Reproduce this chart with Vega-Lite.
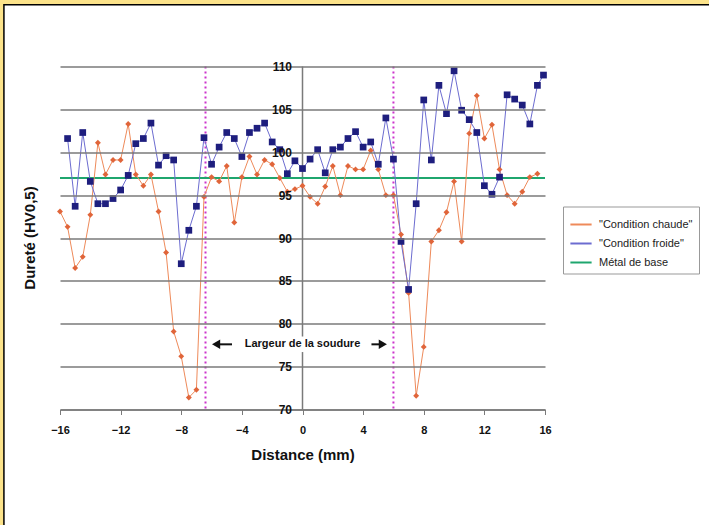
{
  "$schema": "https://vega.github.io/schema/vega-lite/v6.json",
  "width": 485,
  "height": 343,
  "autosize": {"type": "none"},
  "padding": {"left": 60, "top": 66.5, "right": 164, "bottom": 115.5},
  "background": "#FCE38A",
  "config": {
    "view": {"stroke": "#b8b8b8", "strokeWidth": 1},
    "font": "Liberation Sans"
  },
  "datasets": {
    "h": [
      {"s": "\"Condition chaude\"", "d": -16, "v": 93.1},
      {"s": "\"Condition chaude\"", "d": -15.5, "v": 91.3},
      {"s": "\"Condition chaude\"", "d": -15, "v": 86.5},
      {"s": "\"Condition chaude\"", "d": -14.5, "v": 87.8},
      {"s": "\"Condition chaude\"", "d": -14, "v": 92.7},
      {"s": "\"Condition chaude\"", "d": -13.5, "v": 101.1},
      {"s": "\"Condition chaude\"", "d": -13, "v": 97.4},
      {"s": "\"Condition chaude\"", "d": -12.5, "v": 99.1},
      {"s": "\"Condition chaude\"", "d": -12, "v": 99.1},
      {"s": "\"Condition chaude\"", "d": -11.5, "v": 103.3},
      {"s": "\"Condition chaude\"", "d": -11, "v": 97.4},
      {"s": "\"Condition chaude\"", "d": -10.5, "v": 96.1},
      {"s": "\"Condition chaude\"", "d": -10, "v": 97.4},
      {"s": "\"Condition chaude\"", "d": -9.5, "v": 93.1},
      {"s": "\"Condition chaude\"", "d": -9, "v": 88.3},
      {"s": "\"Condition chaude\"", "d": -8.5, "v": 79.1},
      {"s": "\"Condition chaude\"", "d": -8, "v": 76.2},
      {"s": "\"Condition chaude\"", "d": -7.5, "v": 71.4},
      {"s": "\"Condition chaude\"", "d": -7, "v": 72.3},
      {"s": "\"Condition chaude\"", "d": -6.5, "v": 94.8},
      {"s": "\"Condition chaude\"", "d": -6, "v": 97.1},
      {"s": "\"Condition chaude\"", "d": -5.5, "v": 96.6},
      {"s": "\"Condition chaude\"", "d": -5, "v": 98.4},
      {"s": "\"Condition chaude\"", "d": -4.5, "v": 91.8},
      {"s": "\"Condition chaude\"", "d": -4, "v": 97.1},
      {"s": "\"Condition chaude\"", "d": -3.5, "v": 99.5},
      {"s": "\"Condition chaude\"", "d": -3, "v": 97.4},
      {"s": "\"Condition chaude\"", "d": -2.5, "v": 99.1},
      {"s": "\"Condition chaude\"", "d": -2, "v": 98.6},
      {"s": "\"Condition chaude\"", "d": -1.5, "v": 97.0},
      {"s": "\"Condition chaude\"", "d": -1, "v": 95.4},
      {"s": "\"Condition chaude\"", "d": -0.5, "v": 95.7},
      {"s": "\"Condition chaude\"", "d": 0, "v": 96.1},
      {"s": "\"Condition chaude\"", "d": 0.5, "v": 94.8},
      {"s": "\"Condition chaude\"", "d": 1, "v": 94.0},
      {"s": "\"Condition chaude\"", "d": 1.5, "v": 96.0},
      {"s": "\"Condition chaude\"", "d": 2, "v": 98.4},
      {"s": "\"Condition chaude\"", "d": 2.5, "v": 95.0},
      {"s": "\"Condition chaude\"", "d": 3, "v": 98.4},
      {"s": "\"Condition chaude\"", "d": 3.5, "v": 98.0},
      {"s": "\"Condition chaude\"", "d": 4, "v": 98.0},
      {"s": "\"Condition chaude\"", "d": 4.5, "v": 100.2},
      {"s": "\"Condition chaude\"", "d": 5, "v": 98.0},
      {"s": "\"Condition chaude\"", "d": 5.5, "v": 95.0},
      {"s": "\"Condition chaude\"", "d": 6, "v": 95.0},
      {"s": "\"Condition chaude\"", "d": 6.5, "v": 90.4},
      {"s": "\"Condition chaude\"", "d": 7, "v": 83.6},
      {"s": "\"Condition chaude\"", "d": 7.5, "v": 71.6},
      {"s": "\"Condition chaude\"", "d": 8, "v": 77.3},
      {"s": "\"Condition chaude\"", "d": 8.5, "v": 89.6},
      {"s": "\"Condition chaude\"", "d": 9, "v": 90.9},
      {"s": "\"Condition chaude\"", "d": 9.5, "v": 93.0},
      {"s": "\"Condition chaude\"", "d": 10, "v": 96.6},
      {"s": "\"Condition chaude\"", "d": 10.5, "v": 89.6},
      {"s": "\"Condition chaude\"", "d": 11, "v": 102.2},
      {"s": "\"Condition chaude\"", "d": 11.5, "v": 106.6},
      {"s": "\"Condition chaude\"", "d": 12, "v": 101.6},
      {"s": "\"Condition chaude\"", "d": 12.5, "v": 103.2},
      {"s": "\"Condition chaude\"", "d": 13, "v": 98.0},
      {"s": "\"Condition chaude\"", "d": 13.5, "v": 95.0},
      {"s": "\"Condition chaude\"", "d": 14, "v": 94.0},
      {"s": "\"Condition chaude\"", "d": 14.5, "v": 95.4},
      {"s": "\"Condition chaude\"", "d": 15, "v": 97.1},
      {"s": "\"Condition chaude\"", "d": 15.5, "v": 97.5},
      {"s": "\"Condition froide\"", "d": -15.5, "v": 101.6},
      {"s": "\"Condition froide\"", "d": -15, "v": 93.7},
      {"s": "\"Condition froide\"", "d": -14.5, "v": 102.3},
      {"s": "\"Condition froide\"", "d": -14, "v": 96.6},
      {"s": "\"Condition froide\"", "d": -13.5, "v": 94.0},
      {"s": "\"Condition froide\"", "d": -13, "v": 94.0},
      {"s": "\"Condition froide\"", "d": -12.5, "v": 94.6},
      {"s": "\"Condition froide\"", "d": -12, "v": 95.6},
      {"s": "\"Condition froide\"", "d": -11.5, "v": 97.3},
      {"s": "\"Condition froide\"", "d": -11, "v": 101.0},
      {"s": "\"Condition froide\"", "d": -10.5, "v": 101.6},
      {"s": "\"Condition froide\"", "d": -10, "v": 103.4},
      {"s": "\"Condition froide\"", "d": -9.5, "v": 98.5},
      {"s": "\"Condition froide\"", "d": -9, "v": 99.6},
      {"s": "\"Condition froide\"", "d": -8.5, "v": 99.1},
      {"s": "\"Condition froide\"", "d": -8, "v": 87.0},
      {"s": "\"Condition froide\"", "d": -7.5, "v": 90.9},
      {"s": "\"Condition froide\"", "d": -7, "v": 93.7},
      {"s": "\"Condition froide\"", "d": -6.5, "v": 101.7},
      {"s": "\"Condition froide\"", "d": -6, "v": 98.6},
      {"s": "\"Condition froide\"", "d": -5.5, "v": 100.6},
      {"s": "\"Condition froide\"", "d": -5, "v": 102.3},
      {"s": "\"Condition froide\"", "d": -4.5, "v": 101.6},
      {"s": "\"Condition froide\"", "d": -4, "v": 99.5},
      {"s": "\"Condition froide\"", "d": -3.5, "v": 102.3},
      {"s": "\"Condition froide\"", "d": -3, "v": 102.8},
      {"s": "\"Condition froide\"", "d": -2.5, "v": 103.4},
      {"s": "\"Condition froide\"", "d": -2, "v": 101.2},
      {"s": "\"Condition froide\"", "d": -1.5, "v": 100.3},
      {"s": "\"Condition froide\"", "d": -1, "v": 97.5},
      {"s": "\"Condition froide\"", "d": -0.5, "v": 99.0},
      {"s": "\"Condition froide\"", "d": 0, "v": 98.1},
      {"s": "\"Condition froide\"", "d": 0.5, "v": 99.2},
      {"s": "\"Condition froide\"", "d": 1, "v": 100.3},
      {"s": "\"Condition froide\"", "d": 1.5, "v": 97.6},
      {"s": "\"Condition froide\"", "d": 2, "v": 100.3},
      {"s": "\"Condition froide\"", "d": 2.5, "v": 100.6},
      {"s": "\"Condition froide\"", "d": 3, "v": 101.6},
      {"s": "\"Condition froide\"", "d": 3.5, "v": 102.4},
      {"s": "\"Condition froide\"", "d": 4, "v": 100.6},
      {"s": "\"Condition froide\"", "d": 4.5, "v": 101.2},
      {"s": "\"Condition froide\"", "d": 5, "v": 98.6},
      {"s": "\"Condition froide\"", "d": 5.5, "v": 104.0},
      {"s": "\"Condition froide\"", "d": 6, "v": 99.2},
      {"s": "\"Condition froide\"", "d": 6.5, "v": 89.6},
      {"s": "\"Condition froide\"", "d": 7, "v": 84.0},
      {"s": "\"Condition froide\"", "d": 7.5, "v": 94.0},
      {"s": "\"Condition froide\"", "d": 8, "v": 106.1},
      {"s": "\"Condition froide\"", "d": 8.5, "v": 99.1},
      {"s": "\"Condition froide\"", "d": 9, "v": 107.8},
      {"s": "\"Condition froide\"", "d": 9.5, "v": 104.5},
      {"s": "\"Condition froide\"", "d": 10, "v": 109.5},
      {"s": "\"Condition froide\"", "d": 10.5, "v": 104.9},
      {"s": "\"Condition froide\"", "d": 11, "v": 103.8},
      {"s": "\"Condition froide\"", "d": 11.5, "v": 102.3},
      {"s": "\"Condition froide\"", "d": 12, "v": 96.1},
      {"s": "\"Condition froide\"", "d": 12.5, "v": 95.1},
      {"s": "\"Condition froide\"", "d": 13, "v": 97.1},
      {"s": "\"Condition froide\"", "d": 13.5, "v": 106.7},
      {"s": "\"Condition froide\"", "d": 14, "v": 106.2},
      {"s": "\"Condition froide\"", "d": 14.5, "v": 105.5},
      {"s": "\"Condition froide\"", "d": 15, "v": 103.3},
      {"s": "\"Condition froide\"", "d": 15.5, "v": 107.8},
      {"s": "\"Condition froide\"", "d": 15.9, "v": 109.0}
    ],
    "base": [{"s": "Métal de base", "v": 97}],
    "weld": [{"d": -6.4}, {"d": 6}],
    "zero": [{"d": 0, "a": 70, "b": 76.7}, {"d": 0, "a": 78.5, "b": 110}],
    "note": [{"label": "Largeur de la soudure", "d": 0, "v": 77.6}]
  },
  "layer": [
    {
      "data": {"values": [{}]},
      "mark": {"type": "rect", "fill": "white", "stroke": "black", "strokeWidth": 1.5, "clip": false},
      "encoding": {
        "x": {"datum": -19.7, "type": "quantitative",
          "scale": {"domain": [-16, 16], "nice": false, "zero": false},
          "axis": {
            "orient": "bottom", "values": [-16, -12, -8, -4, 0, 4, 8, 12, 16],
            "grid": false, "zindex": 1,
            "domainColor": "#7a7a7a", "domainWidth": 1.5,
            "tickColor": "#7a7a7a", "tickSize": 5, "tickWidth": 1,
            "labelFontSize": 11, "labelFontWeight": "bold", "labelColor": "#111",
            "labelPadding": 10, "labelFlush": false,
            "title": "Distance (mm)", "titleFontSize": 15, "titleFontWeight": "bold",
            "titleColor": "#111", "titlePadding": 12
          }
        },
        "x2": {"datum": 28},
        "y": {"datum": 117.2, "type": "quantitative",
          "scale": {"domain": [70, 110], "nice": false, "zero": false},
          "axis": {
            "orient": "left", "offset": -242.5, "values": [70, 75, 80, 85, 90, 95, 100, 105, 110],
            "grid": true, "gridColor": "#7a7a7a", "gridWidth": 1.5, "zindex": 1,
            "domain": false, "ticks": false,
            "labelFontSize": 12, "labelFontWeight": "bold", "labelColor": "#111",
            "labelPadding": 11, "labelFlush": false,
            "title": "Dureté (HV0,5)", "titleFontSize": 15, "titleFontWeight": "bold",
            "titleColor": "#111", "titleX": -265, "titleY": 171
          }
        },
        "y2": {"datum": 50}
      }
    },
    {
      "data": {"name": "zero"},
      "mark": {"type": "rule", "color": "#7a7a7a", "strokeWidth": 1.5},
      "encoding": {
        "x": {"field": "d", "type": "quantitative"},
        "y": {"field": "a", "type": "quantitative"},
        "y2": {"field": "b"}
      }
    },
    {
      "data": {"name": "weld"},
      "mark": {"type": "rule", "color": "#CC33CC", "strokeWidth": 2, "strokeDash": [2, 3]},
      "encoding": {"x": {"field": "d", "type": "quantitative"}}
    },
    {
      "data": {"name": "base"},
      "mark": {"type": "rule", "strokeWidth": 2},
      "encoding": {
        "y": {"field": "v", "type": "quantitative"},
        "color": {"field": "s", "type": "nominal"}
      }
    },
    {
      "data": {"name": "h"},
      "mark": {"type": "line", "strokeWidth": 1},
      "encoding": {
        "x": {"field": "d", "type": "quantitative"},
        "y": {"field": "v", "type": "quantitative"},
        "color": {
          "field": "s", "type": "nominal",
          "scale": {
            "domain": ["\"Condition chaude\"", "\"Condition froide\"", "Métal de base"],
            "range": ["#EE8A5A", "#6C6CD0", "#1FA66E"]
          },
          "legend": {
            "title": null, "orient": "none", "legendX": 503, "legendY": 140,
            "symbolType": "stroke", "symbolStrokeWidth": 2, "symbolSize": 450,
            "labelFontSize": 11, "labelColor": "#222", "labelFont": "Liberation Sans",
            "rowPadding": 2, "padding": 6, "strokeColor": "#999", "fillColor": "white",
            "labelLimit": 200, "labelOffset": 6
          }
        }
      }
    },
    {
      "data": {"name": "h"},
      "mark": {"type": "point", "filled": true, "opacity": 1, "strokeWidth": 0},
      "encoding": {
        "x": {"field": "d", "type": "quantitative"},
        "y": {"field": "v", "type": "quantitative"},
        "fill": {
          "field": "s", "type": "nominal", "legend": null,
          "scale": {"domain": ["\"Condition chaude\"", "\"Condition froide\""], "range": ["#E0653A", "#1E1E7E"]}
        },
        "shape": {
          "field": "s", "type": "nominal", "legend": null,
          "scale": {"domain": ["\"Condition chaude\"", "\"Condition froide\""], "range": ["diamond", "square"]}
        },
        "size": {
          "field": "s", "type": "nominal", "legend": null,
          "scale": {"domain": ["\"Condition chaude\"", "\"Condition froide\""], "range": [35, 45]}
        }
      }
    },
    {
      "data": {"name": "note"},
      "mark": {"type": "text", "fontSize": 11, "fontWeight": "bold", "color": "#111", "align": "center", "baseline": "middle"},
      "encoding": {
        "x": {"field": "d", "type": "quantitative"},
        "y": {"field": "v", "type": "quantitative"},
        "text": {"field": "label"}
      }
    },
    {
      "data": {"values": [{}]},
      "mark": {"type": "rule", "color": "#111", "strokeWidth": 2},
      "encoding": {
        "x": {"datum": -5.5, "type": "quantitative"},
        "x2": {"datum": -4.65},
        "y": {"datum": 77.6, "type": "quantitative"}
      }
    },
    {
      "data": {"values": [{}]},
      "mark": {"type": "rule", "color": "#111", "strokeWidth": 2},
      "encoding": {
        "x": {"datum": 4.55, "type": "quantitative"},
        "x2": {"datum": 5.1},
        "y": {"datum": 77.6, "type": "quantitative"}
      }
    },
    {
      "data": {"values": [{}]},
      "mark": {"type": "point", "shape": "triangle-left", "filled": true, "color": "#111", "size": 90, "opacity": 1},
      "encoding": {
        "x": {"datum": -5.7, "type": "quantitative"},
        "y": {"datum": 77.6, "type": "quantitative"}
      }
    },
    {
      "data": {"values": [{}]},
      "mark": {"type": "point", "shape": "triangle-right", "filled": true, "color": "#111", "size": 90, "opacity": 1},
      "encoding": {
        "x": {"datum": 5.3, "type": "quantitative"},
        "y": {"datum": 77.6, "type": "quantitative"}
      }
    }
  ]
}
